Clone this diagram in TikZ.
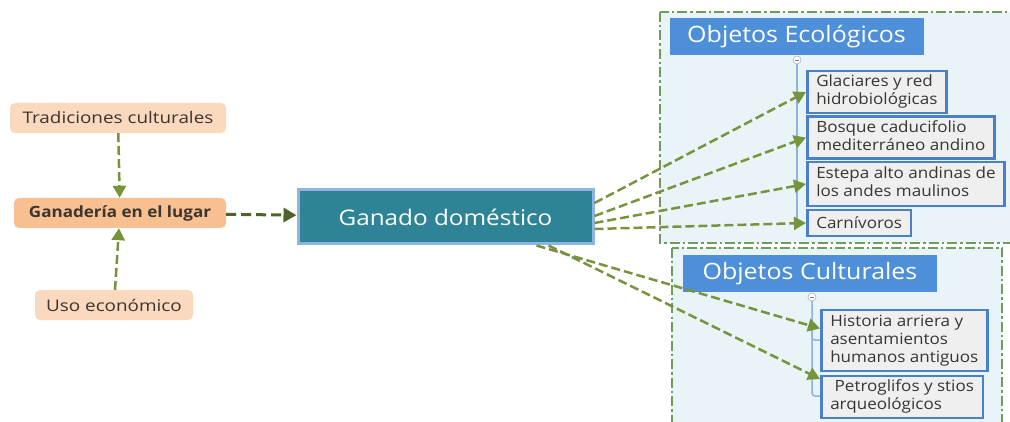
\documentclass[tikz,border=0pt]{standalone}
\usepackage{fontspec}
\usepackage{graphicx}
\setmainfont{Open Sans}
\usetikzlibrary{arrows.meta,calc}
\definecolor{peach}{HTML}{FBD9BE}
\definecolor{orangebox}{HTML}{F8C090}
\definecolor{tealbox}{HTML}{2F8396}
\definecolor{tealrim}{HTML}{8FB5DE}
\definecolor{headblue}{HTML}{4E8FDA}
\definecolor{itemrim}{HTML}{4A80C8}
\definecolor{itemfill}{HTML}{EFEFEF}
\definecolor{framefill}{HTML}{E8F4F7}
\definecolor{framegreen}{HTML}{6F9B5C}
\definecolor{arrowgreen}{HTML}{77933C}
\definecolor{darkgreen}{HTML}{4F6228}
\definecolor{treeline}{HTML}{8DB4E0}
\definecolor{ink}{HTML}{3A3530}
\newcommand\wide[2][1.1]{\scalebox{#1}[1]{#2}}
\newcommand\lines[1]{\wide{\begin{tabular}{@{}l@{}}#1\end{tabular}}}
\begin{document}
\begin{tikzpicture}[x=1pt,y=-1pt,
  cause/.style={fill=peach,rounded corners=5pt,minimum height=30pt,inner sep=0pt,text=ink,font=\fontsize{16}{18}\selectfont},
  hub/.style={fill=tealbox,draw=tealrim,line width=3pt,minimum width=295pt,minimum height=54pt,text=white,font=\fontsize{21.5}{24}\selectfont},
  group/.style={fill=framefill,draw=framegreen,line width=2.5pt,dash pattern=on 10pt off 3pt on 2.5pt off 3pt},
  header/.style={fill=headblue,minimum width=254pt,minimum height=37pt,inner sep=0pt,text=white,font=\fontsize{22.5}{24}\selectfont},
  item/.style={fill=itemfill,draw=itemrim,line width=2.5pt,anchor=west,align=left,inner xsep=9pt,inner ysep=3pt,text=ink,font=\fontsize{15.5}{18}\selectfont},
  link/.style={arrowgreen,line width=2.5pt,dash pattern=on 9pt off 4pt,-{Triangle[length=12pt,width=13pt]}},
  mainlink/.style={darkgreen,line width=3pt,dash pattern=on 10pt off 5pt,-{Triangle[length=13pt,width=14pt]}},
  tree/.style={treeline,line width=1.5pt}]
\useasboundingbox (0,0) rectangle (1010,422);
% grupos
\draw[group] (660,12) rectangle (1016,243);
\draw[group] (672,248) rectangle (1002,430);
% causas
\node[cause,minimum width=216pt] (trad) at (118,118) {\wide[1.18]{Tradiciones culturales}};
\node[cause,fill=orangebox,minimum width=212pt,font=\fontsize{15.5}{18}\selectfont] (gana) at (120,213) {\wide{\bfseries Ganadería en el lugar}};
\node[cause,minimum width=158pt] (uso) at (114,305) {\wide[1.18]{Uso económico}};
\node[hub] (gan) at (445.5,217) {\wide[1.13]{Ganado doméstico}};
% objetos ecologicos
\node[header] (ecoh) at (796.5,36.5) {\wide[1.11]{Objetos Ecológicos}};
\coordinate (ecotop) at (797,60);
\coordinate (ecobot) at (797,226);
\draw[tree] (ecotop) -- (ecobot);
\node[item,minimum height=40pt] (glac) at (806,92) {\lines{Glaciares y red\\hidrobiológicas}};
\node[item,minimum height=41pt] (bosq) at (806,137.5) {\lines{Bosque caducifolio\\mediterráneo andino}};
\node[item,minimum height=44pt] (este) at (806,184) {\lines{Estepa alto andinas de\\los andes maulinos}};
\node[item,minimum height=26pt] (carn) at (806,223) {\wide{Carnívoros}};
\draw[tree,fill=white,draw=gray!60,line width=0.6pt] (ecotop) circle (4pt);
\draw[gray,line width=0.6pt] ($(ecotop)+(-2,0)$) -- ($(ecotop)+(2,0)$);
% objetos culturales
\node[header] (culh) at (810,273.5) {\wide[1.11]{Objetos Culturales}};
\coordinate (cultop) at (812,297);
\draw[tree,rounded corners=3pt] (cultop) |- (820,396);
\draw[tree,rounded corners=3pt] (812,330) |- (820,340);
\node[item,minimum height=61pt] (hist) at (820,340.5) {\lines{Historia arriera y\\asentamientos\\humanos antiguos}};
\node[item,minimum height=42pt] (petr) at (820,397) {\lines{~Petroglifos y stios\\arqueológicos}};
\draw[tree,fill=white,draw=gray!60,line width=0.6pt] (cultop) circle (4pt);
\draw[gray,line width=0.6pt] ($(cultop)+(-2,0)$) -- ($(cultop)+(2,0)$);
% conectores
\draw[link] (trad) -- (gana);
\draw[link] (uso) -- (gana);
\draw[mainlink] (gana) -- (gan);
\draw[link] ($(gan.east)+(0,-14)$) -- (glac.west);
\draw[link] ($(gan.east)+(0,-1)$) -- (bosq.west);
\draw[link] ($(gan.east)+(0,6)$) -- (este.west);
\draw[link] ($(gan.east)+(0,12)$) -- (carn.west);
\draw[link] ($(gan.south east)+(-58,0)$) -- ($(hist.west)+(0,-12)$);
\draw[link] ($(gan.south east)+(-46,0)$) -- ($(petr.west)+(0,-18)$);
\end{tikzpicture}
\end{document}
